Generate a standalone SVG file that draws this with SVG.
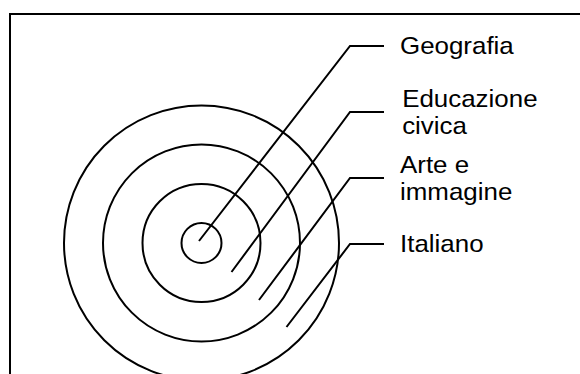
<svg xmlns="http://www.w3.org/2000/svg" width="580" height="374" viewBox="0 0 580 374">
<style>
.ln{fill:none;stroke:#000;stroke-width:2}
.lbl{font-family:"Liberation Sans",Arial,sans-serif;font-size:24px;fill:#000}
</style>
<rect width="580" height="374" fill="#fff"/>
<path class="ln" d="M10 380 V14 H590"/>
<g id="rings">
<circle id="ring1" class="ln" cx="201.5" cy="243" r="20"/>
<circle id="ring2" class="ln" cx="201.5" cy="243" r="59"/>
<circle id="ring3" class="ln" cx="201.5" cy="243" r="98.5"/>
<circle id="ring4" class="ln" cx="201.5" cy="243" r="137.5"/>
</g>
<g id="connectors">
<polyline class="ln" points="199,241 350,46 384,46"/>
<polyline class="ln" points="231.5,272 350,112 384,112"/>
<polyline class="ln" points="259,300 350,178 384,178"/>
<polyline class="ln" points="286.5,327 350,244 384,244"/>
</g>
<g transform="translate(400 0) scale(1.08 1) translate(-400 0)">
<g id="geografia"><text class="lbl" x="400" y="54">Geografia</text></g>
<g id="educazione"><text class="lbl" x="402" y="107">Educazione</text><text class="lbl" x="402" y="134">civica</text></g>
<g id="arte"><text class="lbl" x="400" y="173">Arte e</text><text class="lbl" x="400" y="200">immagine</text></g>
<g id="italiano"><text class="lbl" x="400" y="252">Italiano</text></g>
</g>
</svg>
